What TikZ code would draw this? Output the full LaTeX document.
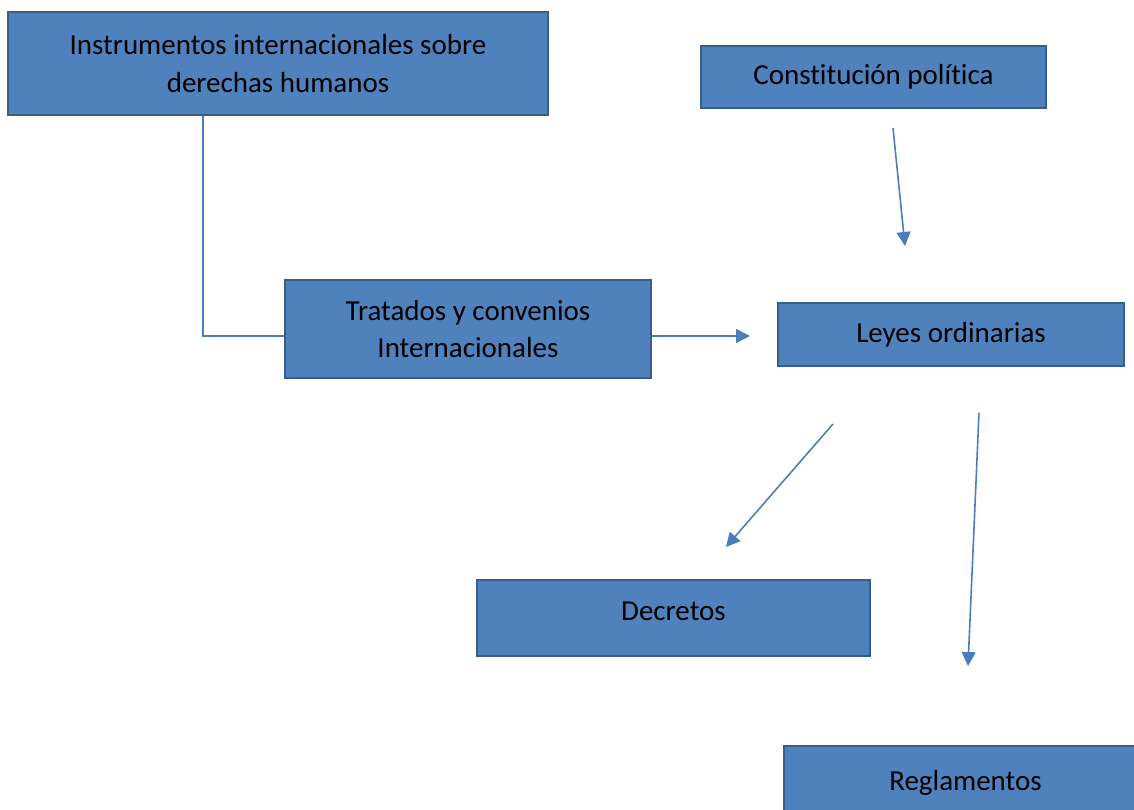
\documentclass[tikz,border=0pt]{standalone}
\usepackage{fontspec}
\setmainfont{Carlito}[Ligatures=NoCommon]
\usetikzlibrary{arrows.meta}

\definecolor{boxfill}{HTML}{4F81BD}
\definecolor{boxline}{HTML}{385D8A}
\definecolor{linkline}{HTML}{4A7EBB}

\tikzset{
  caja/.style={draw=boxline, line width=1.1pt, fill=boxfill, align=center,
    inner sep=0pt, font=\fontsize{16.5}{21.5}\selectfont},
  enlace/.style={draw=linkline, line width=0.9pt},
  flecha/.style={enlace, -{Triangle[length=2.8mm,width=2.8mm]}}
}

\begin{document}
\begin{tikzpicture}[x=0.02cm,y=-0.02cm]

\clip (0,0) rectangle (1134,810);

\coordinate (I) at (278,63.5);
\coordinate (C) at (873.5,77);
\coordinate (T) at (468,329);
\coordinate (L) at (951,334.5);
\coordinate (D) at (673.5,618);
\coordinate (R) at (965.5,784);

\coordinate (t1) at (750,336);
\coordinate (c1) at (893,128);
\coordinate (c2) at (905,246);
\coordinate (d1) at (833,424);
\coordinate (d2) at (726,547);
\coordinate (r1) at (979,413);
\coordinate (r2) at (968,666);

\node [caja, minimum width=10.8cm, minimum height=2.06cm] (inst) at (I)
  {Instrumentos internacionales sobre\\derechas humanos};
\node [caja, minimum width=6.9cm, minimum height=1.24cm] (const) at (C)
  {Constitución política};
\node [caja, minimum width=7.32cm, minimum height=1.96cm] (trat) at (T)
  {Tratados y convenios\\Internacionales};
\node [caja, minimum width=6.92cm, minimum height=1.26cm] (leyes) at (L)
  {Leyes ordinarias};
\node [caja, minimum width=7.86cm, minimum height=1.52cm] (decr) at (D)
  {\raisebox{0.28cm}{Decretos}};
\node [caja, minimum width=7.26cm, minimum height=1.52cm] (regl) at (R)
  {\raisebox{0.16cm}{Reglamentos}};

\draw [enlace] ([xshift=3.92cm]inst.south west) |- ([yshift=-0.14cm]trat.west);
\draw [flecha] ([yshift=-0.14cm]trat.east) -- (t1);
\draw [flecha] (c1) -- (c2);
\draw [flecha] (d1) -- (d2);
\draw [flecha] (r1) -- (r2);

\end{tikzpicture}
\end{document}
